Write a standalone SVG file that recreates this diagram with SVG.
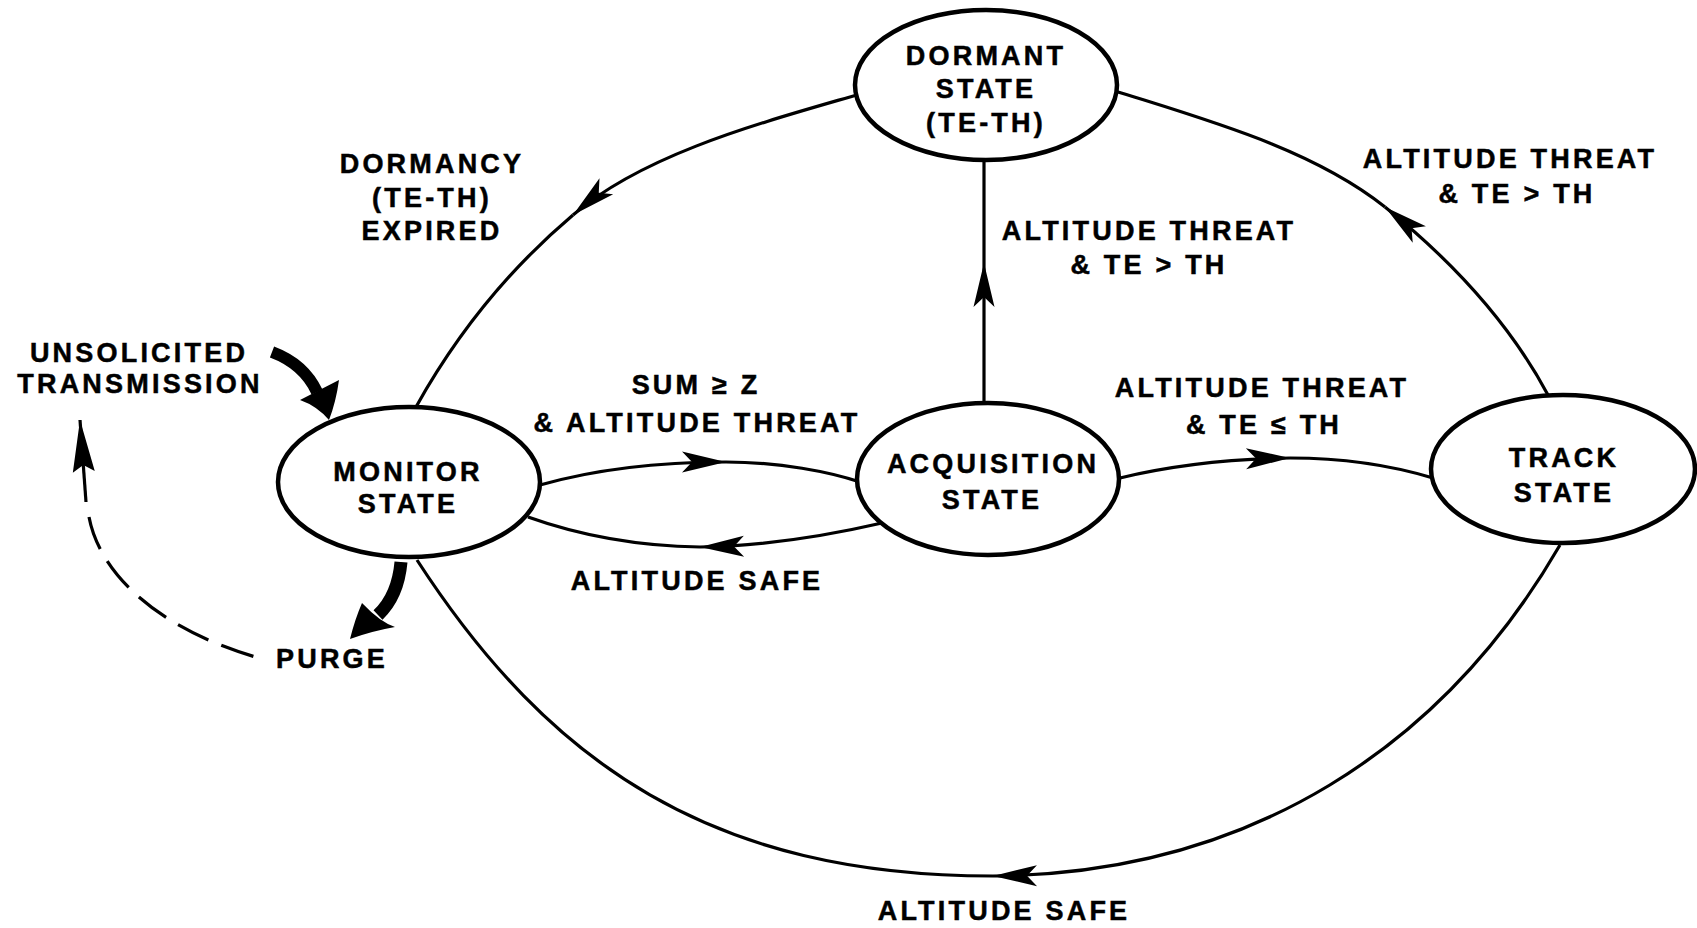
<svg xmlns="http://www.w3.org/2000/svg" width="1697" height="928" viewBox="0 0 1697 928">
<style>
.t{font-family:"Liberation Sans",Arial,Helvetica,sans-serif;font-weight:bold;font-size:27px;letter-spacing:3.2px;text-anchor:middle;fill:#000;stroke:#000;stroke-width:0.5}
.c{fill:none;stroke:#000;stroke-width:3.2}
.n{fill:#fff;stroke:#000;stroke-width:4.5}
</style>
<defs>
<marker id="ah" viewBox="-46 -12 48 24" refX="0" refY="0" markerWidth="48" markerHeight="24" markerUnits="userSpaceOnUse" orient="auto">
<path d="M0,0 L-44,-10.5 L-34,0 L-44,10.5 Z" fill="#000"/>
</marker>
<marker id="ahl" viewBox="-54 -12 56 24" refX="0" refY="0" markerWidth="56" markerHeight="24" markerUnits="userSpaceOnUse" orient="auto">
<path d="M0,0 L-52,-11 L-45,0 L-52,11 Z" fill="#000"/>
</marker>
</defs>
<rect width="1697" height="928" fill="#fff"/>
<g id="connectors">
<path class="c" d="M860 94 C764 122 645 153 573 215" marker-end="url(#ah)"/>
<path class="c" d="M573 215 C508 270 455 337 416 407"/>
<path class="c" d="M1548 395 C1510 324 1451 260 1385 207" marker-end="url(#ah)"/>
<path class="c" d="M1385 207 C1311 148 1203 119 1112 90"/>
<path class="c" d="M1560 545 C1443 747 1250 874 993 876" marker-end="url(#ah)"/>
<path class="c" d="M993 876 C713 876 550 765 417 560"/>
<path class="c" d="M540 485 C600 468 660 462 726 462" marker-end="url(#ah)"/>
<path class="c" d="M726 462 C780 462 830 472 860 482"/>
<path class="c" d="M882 523 C830 535 770 546 700 547" marker-end="url(#ah)"/>
<path class="c" d="M700 547 C630 546 570 532 528 517"/>
<path class="c" d="M1120 478 C1170 466 1230 459 1290 458" marker-end="url(#ah)"/>
<path class="c" d="M1290 458 C1350 458 1400 468 1433 478"/>
<path class="c" d="M984 405 L984 263" marker-end="url(#ah)"/>
<path class="c" d="M984 263 L984 158"/>
<path class="c" d="M86 502 L80 420" marker-end="url(#ahl)"/>
<path class="c" d="M89 517 C100 575 160 630 259 658" stroke-dasharray="34 14" stroke-width="3.6"/>
<path d="M272 352 Q304 364 317 392" fill="none" stroke="#000" stroke-width="12"/>
<path d="M300 400 L339 380 Q336 402 329 420 Q317 406 300 400 Z" fill="#000"/>
<path d="M401 562 Q398 596 378 615" fill="none" stroke="#000" stroke-width="13"/>
<path d="M362 603 Q380 622 395 627 Q372 631 350 639 Q355 619 362 603 Z" fill="#000"/>
</g>
<g id="dormant">
<ellipse class="n" cx="986" cy="85" rx="131" ry="75"/>
<text class="t" x="986" y="65">DORMANT</text>
<text class="t" x="986" y="98">STATE</text>
<text class="t" x="986" y="132">(TE-TH)</text>
</g>
<g id="monitor">
<ellipse class="n" cx="409" cy="482" rx="131" ry="75"/>
<text class="t" x="408" y="481">MONITOR</text>
<text class="t" x="408" y="513">STATE</text>
</g>
<g id="acquisition">
<ellipse class="n" cx="988" cy="479" rx="131" ry="76"/>
<text class="t" x="993" y="473">ACQUISITION</text>
<text class="t" x="992" y="509">STATE</text>
</g>
<g id="track">
<ellipse class="n" cx="1563" cy="469" rx="132" ry="74"/>
<text class="t" x="1564" y="467">TRACK</text>
<text class="t" x="1564" y="502">STATE</text>
</g>
<g id="labels">
<text class="t" x="432" y="173">DORMANCY</text>
<text class="t" x="432" y="207">(TE-TH)</text>
<text class="t" x="432" y="240">EXPIRED</text>
<text class="t" x="1149" y="240">ALTITUDE THREAT</text>
<text class="t" x="1149" y="274">&amp; TE &gt; TH</text>
<text class="t" x="1510" y="168">ALTITUDE THREAT</text>
<text class="t" x="1517" y="203">&amp; TE &gt; TH</text>
<text class="t" x="1262" y="397">ALTITUDE THREAT</text>
<text class="t" x="1264" y="434">&amp; TE ≤ TH</text>
<text class="t" x="696" y="394">SUM ≥ Z</text>
<text class="t" x="697" y="432">&amp; ALTITUDE THREAT</text>
<text class="t" x="697" y="590">ALTITUDE SAFE</text>
<text class="t" x="1004" y="920">ALTITUDE SAFE</text>
<text class="t" x="139" y="362">UNSOLICITED</text>
<text class="t" x="140" y="393">TRANSMISSION</text>
<text class="t" x="332" y="668">PURGE</text>
</g>
</svg>
